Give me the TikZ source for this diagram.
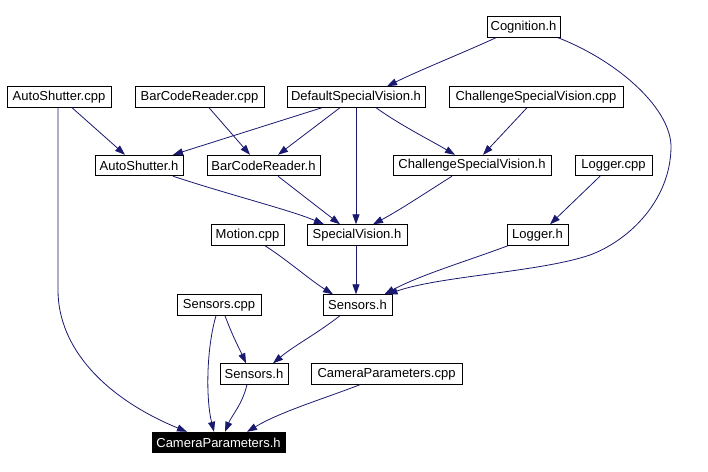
\documentclass[tikz,border=0pt]{standalone}
\usepackage{fontspec}
\setmainfont{Liberation Sans}
\usetikzlibrary{arrows.meta}
\definecolor{edgeblue}{HTML}{191970}
\tikzset{
  box/.style={draw=black, line width=0.9pt, fill=white, inner sep=0pt,
    minimum height=20.5pt, font=\fontsize{13}{15}\selectfont, text=black},
  hbox/.style={box, fill=black, text=white},
  edge/.style={draw=edgeblue, line width=0.8pt,
    -{Triangle[length=10pt,width=7pt]}, fill=none}
}
\begin{document}
\begin{tikzpicture}[x=1pt,y=-1pt]
\useasboundingbox[fill=white] (0,0) rectangle (708,471);
% row 1
\node[box, minimum width=73pt]  (cog) at (523.5,27) {Cognition.h};
% row 2
\node[box, minimum width=104pt] (asc) at (59,97)    {AutoShutter.cpp};
\node[box, minimum width=129pt] (bcc) at (199.5,97) {BarCodeReader.cpp};
\node[box, minimum width=138pt] (dsv) at (356,97)   {DefaultSpecialVision.h};
\node[box, minimum width=174pt] (csc) at (536,97)   {ChallengeSpecialVision.cpp};
% row 3
\node[box, minimum width=88pt]  (ash) at (139,165.5)   {AutoShutter.h};
\node[box, minimum width=113pt] (bch) at (263.5,165.5) {BarCodeReader.h};
\node[box, minimum width=158pt] (csh) at (472,165.5)   {ChallengeSpecialVision.h};
\node[box, minimum width=77pt]  (lgc) at (613.5,165.5) {Logger.cpp};
% row 4
\node[box, minimum width=73pt]  (mot) at (247.5,235) {Motion.cpp};
\node[box, minimum width=100pt] (svh) at (357,235)   {SpecialVision.h};
\node[box, minimum width=61pt]  (lgh) at (537.5,235) {Logger.h};
% row 5
\node[box, minimum width=84pt]  (scp) at (219,305)   {Sensors.cpp};
\node[box, minimum width=69pt]  (sh1) at (357.5,305) {Sensors.h};
% row 6
\node[box, minimum width=68pt]  (sh2) at (254,374)   {Sensors.h};
\node[box, minimum width=151pt] (cpc) at (386.5,374) {CameraParameters.cpp};
% row 7
\node[hbox, minimum width=133pt] (cph) at (218.5,442.5) {CameraParameters.h};

% edges
\draw[edge] ([xshift=-27.5pt]cog.south) .. controls (465,52) and (420,70) .. ([xshift=31pt]dsv.north);
\draw[edge] ([xshift=34.5pt]cog.south) .. controls (620,62) and (672,110) .. (671,148)
   .. controls (670,200) and (630,240) .. (590,255)
   .. controls (540,272) and (440,276) .. ([xshift=30pt]sh1.north);
\draw[edge] ([xshift=13pt]asc.south) -- ([xshift=-14pt]ash.north);
\draw[edge] ([xshift=-1pt]asc.south) -- (58,290) .. controls (58,348) and (105,398) .. ([xshift=-31.5pt]cph.north);
\draw[edge] ([xshift=9.5pt]bcc.south) -- ([xshift=-13.5pt]bch.north);
\draw[edge] ([xshift=-34pt]dsv.south) -- ([xshift=34pt]ash.north);
\draw[edge] ([xshift=-16pt]dsv.south) -- ([xshift=14.5pt]bch.north);
\draw[edge] (dsv.south) -- ([xshift=-1pt]svh.north);
\draw[edge] ([xshift=20pt]dsv.south) .. controls (400,125) and (430,140) .. ([xshift=-17pt]csh.north);
\draw[edge] ([xshift=-9pt]csc.south) -- ([xshift=11pt]csh.north);
\draw[edge] ([xshift=34pt]ash.south) .. controls (230,195) and (290,210) .. ([xshift=-33pt]svh.north);
\draw[edge] ([xshift=14.5pt]bch.south) -- ([xshift=-17pt]svh.north);
\draw[edge] ([xshift=-20pt]csh.south) .. controls (430,190) and (400,210) .. ([xshift=16pt]svh.north);
\draw[edge] ([xshift=-13.5pt]lgc.south) -- ([xshift=12.5pt]lgh.north);
\draw[edge] ([xshift=-1pt]svh.south) -- ([xshift=-1.5pt]sh1.north);
\draw[edge] ([xshift=17.5pt]mot.south) .. controls (290,262) and (310,280) .. ([xshift=-24.5pt]sh1.north);
\draw[edge] ([xshift=-29.5pt]lgh.south) .. controls (470,260) and (420,275) .. ([xshift=27pt]sh1.north);
\draw[edge] ([xshift=-17.5pt]sh1.south) .. controls (315,335) and (295,345) .. ([xshift=19pt]sh2.north);
\draw[edge] ([xshift=6pt]scp.south) .. controls (232,335) and (240,350) .. ([xshift=-8pt]sh2.north);
\draw[edge] ([xshift=-3pt]scp.south) .. controls (206,350) and (206,400) .. ([xshift=-4.5pt]cph.north);
\draw[edge] ([xshift=-7pt]sh2.south) .. controls (242,405) and (232,415) .. ([xshift=6.5pt]cph.north);
\draw[edge] ([xshift=-26.5pt]cpc.south) .. controls (320,400) and (280,412) .. ([xshift=28.5pt]cph.north);
\end{tikzpicture}
\end{document}
